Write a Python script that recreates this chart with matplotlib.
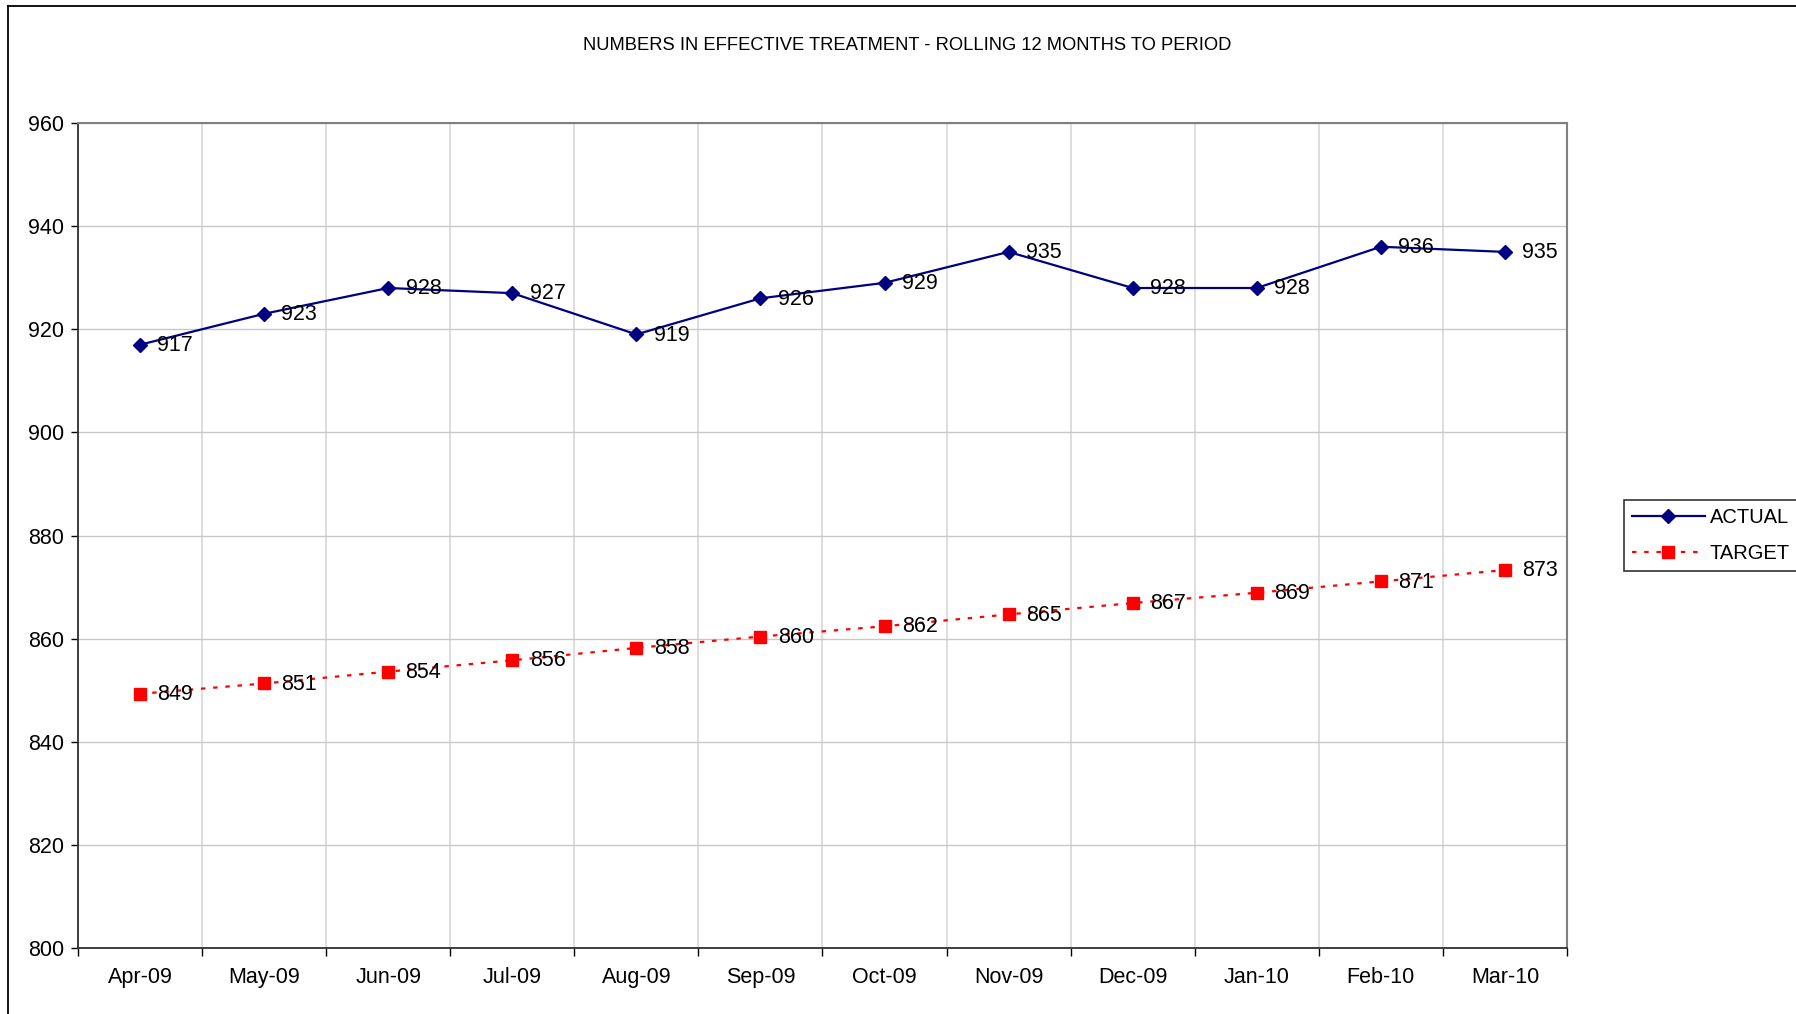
import matplotlib
matplotlib.use("Agg")
import matplotlib.pyplot as plt
from matplotlib.lines import Line2D

# Chart data
months = ['Apr-09', 'May-09', 'Jun-09', 'Jul-09', 'Aug-09', 'Sep-09',
          'Oct-09', 'Nov-09', 'Dec-09', 'Jan-10', 'Feb-10', 'Mar-10']
actual = [917, 923, 928, 927, 919, 926, 929, 935, 928, 928, 936, 935]
target = [849.3, 851.3, 853.6, 855.8, 858.2, 860.4, 862.4, 864.7, 866.9, 868.9, 871.1, 873.3]
yticks = [800, 820, 840, 860, 880, 900, 920, 940, 960]

plt.rcParams['font.family'] = ['Liberation Sans', 'DejaVu Sans']

W, H = 1796, 1014
fig = plt.figure(figsize=(W / 100, H / 100), dpi=100)
ax = fig.add_axes([78 / W, 1 - 948 / H, (1567 - 78) / W, (948 - 123) / H])

x = list(range(len(months)))

ax.plot(x, actual, color='#000080', lw=1.6, marker='D', ms=7.5,
        label='ACTUAL', zorder=4)
ax.plot(x, target, color='#ff0000', lw=1.6, ls=(0, (2, 3.5)), marker='s', ms=8,
        label='TARGET', zorder=4)

for xi, v in zip(x, actual):
    ax.annotate(str(round(v)), (xi, v), xytext=(12.5, -0.5), textcoords='offset points',
                ha='left', va='center', fontsize=15.5, zorder=5)
for xi, v in zip(x, target):
    ax.annotate(str(round(v)), (xi, v), xytext=(12.5, -0.5), textcoords='offset points',
                ha='left', va='center', fontsize=15.5, zorder=5)

ax.set_xlim(-0.5, len(months) - 0.5)
ax.set_ylim(800, 960)
ax.set_yticks(yticks)
ax.tick_params(axis='y', labelsize=15.5, length=5, width=1, direction='out', pad=5)

# boundaries get tick marks and grid, centres get the labels
ax.set_xticks([i - 0.5 for i in range(len(months) + 1)])
ax.set_xticklabels([])
ax.set_xticks(x, minor=True)
ax.set_xticklabels(months, minor=True)
ax.tick_params(axis='x', which='major', length=6, width=1, direction='out')
ax.tick_params(axis='x', which='minor', length=0, labelsize=15.5, pad=14)

ax.grid(axis='y', color='#c8c8c8', lw=1)
ax.grid(axis='x', which='major', color='#d8d8d8', lw=1.2)
ax.set_axisbelow(True)

for side in ['top', 'right']:
    ax.spines[side].set_color('#808080')
    ax.spines[side].set_linewidth(1.5)
for side in ['left', 'bottom']:
    ax.spines[side].set_color('#303030')
    ax.spines[side].set_linewidth(1.3)

fig.text(907 / W, 1 - 45 / H, 'NUMBERS IN EFFECTIVE TREATMENT - ROLLING 12 MONTHS TO PERIOD',
         ha='center', va='center', fontsize=13.2)

leg = ax.legend(loc='upper left', bbox_to_anchor=(1624 / W, 1 - 500 / H),
                bbox_transform=fig.transFigure, fontsize=14.5, frameon=True,
                fancybox=False, shadow=False, handlelength=3.6, borderpad=0.4,
                labelspacing=0.85, handletextpad=0.25, borderaxespad=0)
leg.get_frame().set_edgecolor('black')
leg.get_frame().set_linewidth(1.2)

# outer chart border (left and top visible)
fig.add_artist(Line2D([8 / W, 8 / W], [0, 1 - 6 / H], transform=fig.transFigure,
                      color='black', lw=1.3))
fig.add_artist(Line2D([8 / W, 1], [1 - 6 / H, 1 - 6 / H], transform=fig.transFigure,
                      color='black', lw=1.3))

fig.savefig('out.png', dpi=100)
